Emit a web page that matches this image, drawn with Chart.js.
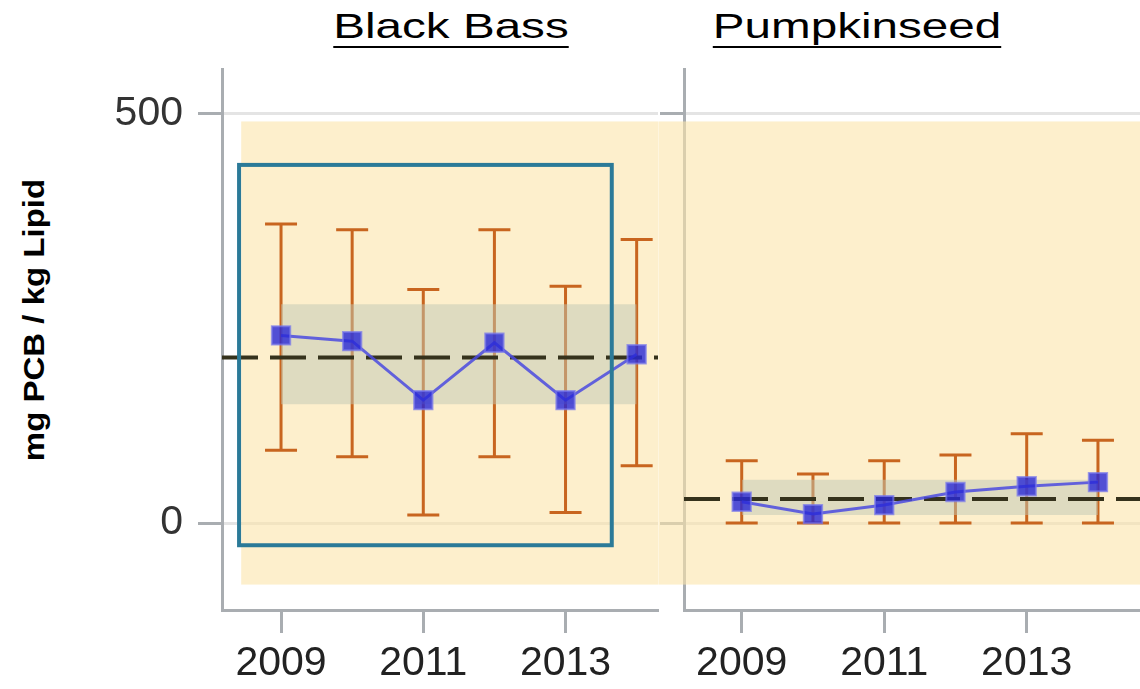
<!DOCTYPE html>
<html>
<head>
<meta charset="utf-8">
<script src="https://cdn.jsdelivr.net/npm/chart.js@4.4.1/dist/chart.umd.min.js"></script>
<style>
  body { margin: 0; background: #fff; width: 1140px; height: 689px; overflow: hidden; position: relative; font-family: "Liberation Sans", Arial, sans-serif; }
  canvas { position: absolute; top: 0; }
  #bassCanvas { left: 0; }
  #pumpCanvas { left: 650px; }
  .panelTitle { position: absolute; top: 8px; font-size: 35px; line-height: 1; color: #000; text-decoration: underline; text-decoration-thickness: 2px; text-underline-offset: 8px; white-space: nowrap; transform: translateX(-50%) scaleX(1.36); }
  #yTitle { position: absolute; left: 34px; top: 320px; font-size: 30px; font-weight: bold; color: #000; white-space: nowrap; transform: translate(-50%, -50%) rotate(-90deg) scaleX(1.1); }
</style>
</head>
<body>
<div class="panelTitle" style="left: 451px;">Black Bass</div>
<div class="panelTitle" style="left: 857px;">Pumpkinseed</div>
<div id="yTitle">mg PCB / kg Lipid</div>
<canvas id="bassCanvas" width="670" height="689"></canvas>
<canvas id="pumpCanvas" width="490" height="689"></canvas>
<script>
// Sampling years and axis ticks
const years = [2009, 2010, 2011, 2012, 2013, 2014];
const xTickLabels = [2009, 2011, 2013];
const yTickLabels = [0, 500];

// Black Bass
const bassMean = [229, 222, 150, 220, 150, 206];
const bassLow = [89, 81, 10, 81, 13, 70];
const bassHigh = [365, 358, 285, 358, 289, 346];
const bassAvg = 202;
const bassBand = [145, 267];

// Pumpkinseed
const pumpMean = [26, 11, 22, 38, 45, 50];
const pumpLow = [0, 0, 0, 0, 0, 0];
const pumpHigh = [76, 60, 76, 83, 109, 101];
const pumpAvg = 29.5;
const pumpBand = [10, 53];

// Axis ranges, shaded background and highlight box (data units)
const yRange = [-106, 554];
const bassXRange = [2008.17, 2014.3];
const pumpXRange = [2008.19, 2014.59];
const shadeY = [-75, 490];
const bassShadeX = [2008.44, 2014.3];
const pumpShadeX = [2007.83, 2014.59];
const highlightBox = { x: [2008.41, 2013.65], y: [-27, 437] };

const axisGray = '#a9adb1';
const tickFont = { family: '"Liberation Sans", Arial, sans-serif', size: 41 };

function makeDecorations(low, high, shadeX, box) {
    return {
        id: 'decorations',
        beforeDatasetsDraw(chart) {
            const { ctx, scales: { x, y } } = chart;
            ctx.save();
            // pale orange background
            const sx0 = x.getPixelForValue(shadeX[0]);
            const sx1 = x.getPixelForValue(shadeX[1]);
            const sy0 = y.getPixelForValue(shadeY[1]);
            const sy1 = y.getPixelForValue(shadeY[0]);
            ctx.fillStyle = 'rgba(251, 228, 170, 0.6)';
            ctx.fillRect(sx0, sy0, sx1 - sx0, sy1 - sy0);

            // error bars
            ctx.strokeStyle = '#c8651f';
            ctx.lineWidth = 3;
            low.forEach((lo, i) => {
                const px = x.getPixelForValue(years[i]);
                const pLo = y.getPixelForValue(lo);
                const pHi = y.getPixelForValue(high[i]);
                ctx.beginPath();
                ctx.moveTo(px, pLo); ctx.lineTo(px, pHi);
                ctx.moveTo(px - 16, pLo); ctx.lineTo(px + 16, pLo);
                ctx.moveTo(px - 16, pHi); ctx.lineTo(px + 16, pHi);
                ctx.stroke();
            });
            ctx.restore();
        },
        afterDatasetsDraw(chart) {
            if (!box) return;
            const { ctx, scales: { x, y } } = chart;
            const bx0 = x.getPixelForValue(box.x[0]);
            const bx1 = x.getPixelForValue(box.x[1]);
            const by0 = y.getPixelForValue(box.y[1]);
            const by1 = y.getPixelForValue(box.y[0]);
            ctx.save();
            ctx.strokeStyle = '#2b7a98';
            ctx.lineWidth = 4;
            ctx.strokeRect(bx0, by0, bx1 - bx0, by1 - by0);
            ctx.restore();
        }
    };
}

function makePanel(canvasId, opts) {
    const pts = (vals) => vals.map((v, i) => ({ x: years[i], y: v }));
    const flat = (v) => years.map(yr => ({ x: yr, y: v }));

    new Chart(document.getElementById(canvasId), {
        type: 'line',
        data: {
            datasets: [
                {
                    data: pts(opts.mean),
                    borderColor: 'rgba(75, 75, 225, 0.85)',
                    borderWidth: 3,
                    pointStyle: 'rect',
                    pointRadius: 13,
                    pointBackgroundColor: 'rgba(40, 40, 215, 0.8)',
                    pointBorderColor: 'rgba(120, 120, 235, 0.7)',
                    pointBorderWidth: 2,
                    order: 0
                },
                {
                    data: [{ x: opts.xRange[0], y: opts.avg }, { x: opts.xRange[1], y: opts.avg }],
                    borderColor: '#35321c',
                    borderWidth: 4,
                    borderDash: [36, 12],
                    pointRadius: 0,
                    order: 1
                },
                {
                    data: flat(opts.band[1]),
                    borderWidth: 0,
                    pointRadius: 0,
                    fill: '+1',
                    backgroundColor: 'rgba(191, 200, 179, 0.5)',
                    order: 2
                },
                {
                    data: flat(opts.band[0]),
                    borderWidth: 0,
                    pointRadius: 0,
                    fill: false,
                    order: 3
                }
            ]
        },
        options: {
            responsive: false,
            animation: false,
            devicePixelRatio: 1,
            layout: { autoPadding: false, padding: { top: 69, right: opts.padRight, left: 0, bottom: 0 } },
            plugins: { legend: { display: false }, tooltip: { enabled: false } },
            scales: {
                x: {
                    type: 'linear',
                    min: opts.xRange[0],
                    max: opts.xRange[1],
                    afterBuildTicks: (axis) => { axis.ticks = xTickLabels.map(v => ({ value: v })); },
                    afterFit: (scale) => { scale.height = 79; scale.paddingLeft = 0; scale.paddingRight = 0; },
                    ticks: {
                        color: '#222',
                        font: tickFont,
                        padding: 6,
                        maxRotation: 0,
                        autoSkip: false,
                        callback: (v) => String(v)
                    },
                    grid: { drawOnChartArea: false, tickLength: 23, tickColor: axisGray, tickWidth: 3 },
                    border: { color: axisGray, width: 3 }
                },
                y: {
                    type: 'linear',
                    min: yRange[0],
                    max: yRange[1],
                    afterBuildTicks: (axis) => { axis.ticks = yTickLabels.map(v => ({ value: v })); },
                    afterFit: (scale) => { scale.width = opts.yWidth; scale.paddingTop = 0; scale.paddingBottom = 0; },
                    ticks: {
                        display: opts.showYLabels,
                        color: '#333',
                        font: tickFont,
                        padding: 15,
                        callback: (v) => String(v)
                    },
                    grid: { color: '#e4e4e4', lineWidth: 3, tickLength: 24, tickColor: axisGray, tickWidth: 3 },
                    border: { color: axisGray, width: 3 }
                }
            }
        },
        plugins: [makeDecorations(opts.low, opts.high, opts.shadeX, opts.box)]
    });
}

makePanel('bassCanvas', {
    mean: bassMean, low: bassLow, high: bassHigh, avg: bassAvg, band: bassBand,
    xRange: bassXRange, shadeX: bassShadeX, box: highlightBox,
    yWidth: 222, padRight: 12, showYLabels: true
});

makePanel('pumpCanvas', {
    mean: pumpMean, low: pumpLow, high: pumpHigh, avg: pumpAvg, band: pumpBand,
    xRange: pumpXRange, shadeX: pumpShadeX, box: null,
    yWidth: 34, padRight: 0, showYLabels: false
});
</script>
</body>
</html>
